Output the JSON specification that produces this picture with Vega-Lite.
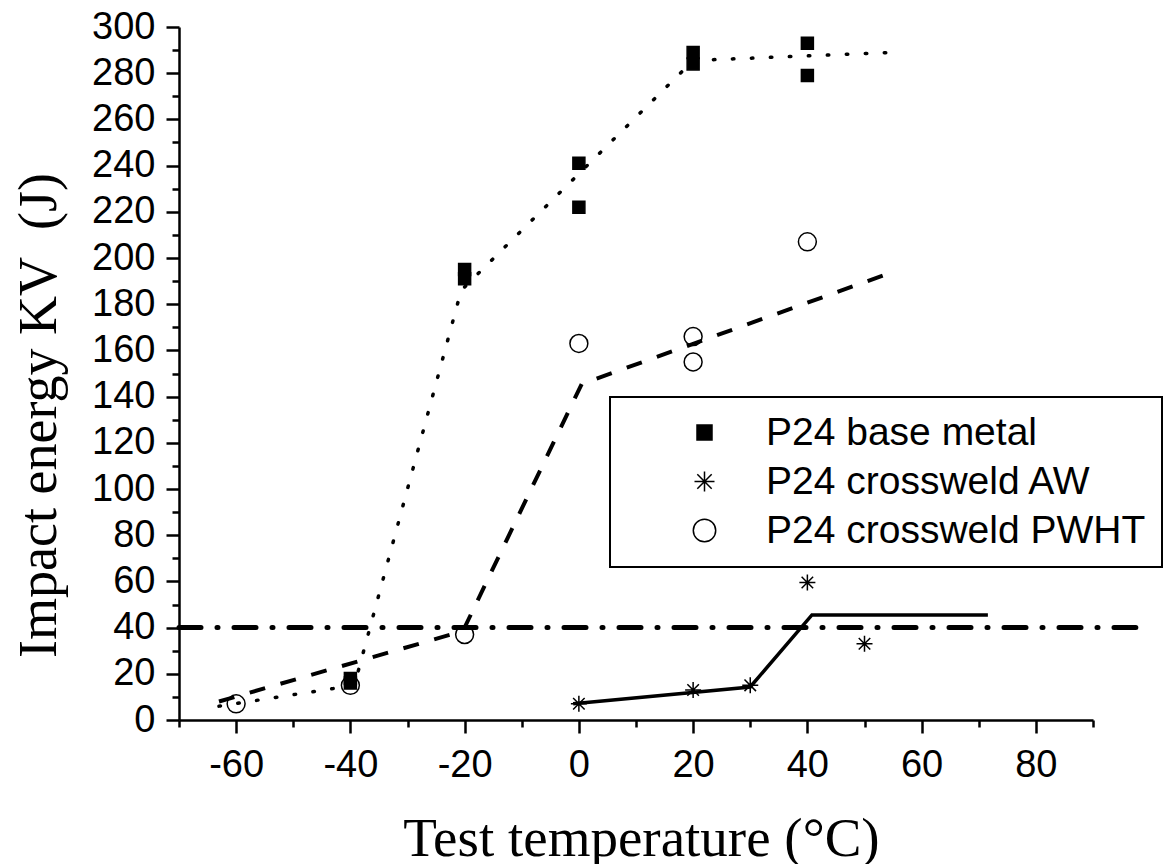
{
  "$schema": "https://vega.github.io/schema/vega-lite/v6.json",
  "width": 914,
  "height": 693,
  "autosize": "none",
  "padding": {"left": 179, "top": 27, "right": 82, "bottom": 144},
  "background": "white",
  "config": {"view": {"stroke": null}, "legend": {"strokeWidth": 2}},
  "datasets": {
    "points": [
      {"series": "P24 base metal", "T": -40, "E": 16},
      {"series": "P24 base metal", "T": -40, "E": 18},
      {"series": "P24 base metal", "T": -20, "E": 191},
      {"series": "P24 base metal", "T": -20, "E": 195},
      {"series": "P24 base metal", "T": 0, "E": 241},
      {"series": "P24 base metal", "T": 0, "E": 222},
      {"series": "P24 base metal", "T": 20, "E": 284},
      {"series": "P24 base metal", "T": 20, "E": 289},
      {"series": "P24 base metal", "T": 40, "E": 293},
      {"series": "P24 base metal", "T": 40, "E": 279},
      {"series": "P24 crossweld AW", "T": 0, "E": 7},
      {"series": "P24 crossweld AW", "T": 20, "E": 13},
      {"series": "P24 crossweld AW", "T": 30, "E": 15},
      {"series": "P24 crossweld AW", "T": 40, "E": 59.5},
      {"series": "P24 crossweld AW", "T": 50, "E": 33},
      {"series": "P24 crossweld PWHT", "T": -60, "E": 7},
      {"series": "P24 crossweld PWHT", "T": -40, "E": 15},
      {"series": "P24 crossweld PWHT", "T": -20, "E": 37},
      {"series": "P24 crossweld PWHT", "T": 0, "E": 163},
      {"series": "P24 crossweld PWHT", "T": 20, "E": 166},
      {"series": "P24 crossweld PWHT", "T": 20, "E": 155},
      {"series": "P24 crossweld PWHT", "T": 40, "E": 207}
    ],
    "limit": [
      {"T": -70, "E": 40},
      {"T": 97.5, "E": 40}
    ],
    "fitBase": [
      {"T": -63, "E": 6},
      {"T": -39.3, "E": 15},
      {"T": -20.6, "E": 186},
      {"T": 20, "E": 285.5},
      {"T": 55, "E": 289}
    ],
    "fitPWHT": [
      {"T": -63, "E": 8},
      {"T": -20.3, "E": 38.5},
      {"T": 0.5, "E": 145.5},
      {"T": 55, "E": 194}
    ],
    "fitAW": [
      {"T": -1, "E": 7},
      {"T": 30, "E": 14.3},
      {"T": 40.8, "E": 45.5},
      {"T": 71.6, "E": 45.5}
    ]
  },
  "encoding": {
    "x": {
      "field": "T",
      "type": "quantitative",
      "scale": {"domain": [-70, 90], "nice": false, "zero": false},
      "axis": {
        "values": [-70, -60, -50, -40, -30, -20, -10, 0, 10, 20, 30, 40, 50, 60, 70, 80, 90],
        "labelExpr": "datum.value % 20 === 0 ? '' + datum.value : ''",
        "tickSize": {"condition": {"test": "datum.value % 20 === 0", "value": 13}, "value": 7},
        "tickWidth": 2.5,
        "tickColor": "black",
        "domainColor": "black",
        "domainWidth": 2.5,
        "grid": false,
        "labelFont": "Liberation Sans, Arial, sans-serif",
        "labelFontSize": 38,
        "labelColor": "black",
        "labelPadding": 13,
        "labelFlush": false,
        "labelOverlap": false,
        "title": "Test temperature (°C)",
        "titleFont": "Liberation Serif",
        "titleFontSize": 55,
        "titleFontWeight": "normal",
        "titleColor": "black",
        "titleX": 462,
        "titleY": 135,
        "titleBaseline": "alphabetic",
        "titleAlign": "center"
      }
    },
    "y": {
      "field": "E",
      "type": "quantitative",
      "scale": {"domain": [0, 300], "nice": false},
      "axis": {
        "values": [0, 10, 20, 30, 40, 50, 60, 70, 80, 90, 100, 110, 120, 130, 140, 150, 160, 170, 180, 190, 200, 210, 220, 230, 240, 250, 260, 270, 280, 290, 300],
        "labelExpr": "datum.value % 20 === 0 ? '' + datum.value : ''",
        "tickSize": {"condition": {"test": "datum.value % 20 === 0", "value": 13}, "value": 7},
        "tickWidth": 2.5,
        "tickColor": "black",
        "domainColor": "black",
        "domainWidth": 2.5,
        "grid": false,
        "labelFont": "Liberation Sans, Arial, sans-serif",
        "labelFontSize": 38,
        "labelColor": "black",
        "labelPadding": 11,
        "labelFlush": false,
        "labelOverlap": false,
        "title": "Impact energy KV\u00a0 (J)",
        "titleFont": "Liberation Serif",
        "titleFontSize": 54,
        "titleFontWeight": "normal",
        "titleColor": "black",
        "titleAngle": -90,
        "titleX": -124,
        "titleY": 388,
        "titleBaseline": "alphabetic",
        "titleAlign": "center"
      }
    }
  },
  "layer": [
    {
      "data": {"name": "limit"},
      "mark": {"type": "line", "color": "black", "strokeWidth": 5, "strokeDash": [22, 16, 1, 16], "strokeCap": "round", "clip": false}
    },
    {
      "data": {"name": "fitBase"},
      "mark": {"type": "line", "color": "black", "strokeWidth": 3.5, "strokeDash": [1.5, 17.5], "strokeCap": "round"}
    },
    {
      "data": {"name": "fitPWHT"},
      "mark": {"type": "line", "color": "black", "strokeWidth": 4, "strokeDash": [16, 16]}
    },
    {
      "data": {"name": "fitAW"},
      "mark": {"type": "line", "color": "black", "strokeWidth": 3.5}
    },
    {
      "data": {"name": "points"},
      "mark": {"type": "point", "size": 256, "strokeWidth": 1.5, "opacity": 1},
      "encoding": {
        "shape": {
          "field": "series",
          "type": "nominal",
          "scale": {
            "domain": ["P24 base metal", "P24 crossweld AW", "P24 crossweld PWHT"],
            "range": [
              "M-0.75,-0.75L0.75,-0.75L0.75,0.75L-0.75,0.75Z",
              "M-1,0L1,0M0,-1L0,1M-0.72,-0.72L0.72,0.72M-0.72,0.72L0.72,-0.72",
              "M1.12,0A1.12,1.12,0,1,1,-1.12,0A1.12,1.12,0,1,1,1.12,0Z"
            ]
          },
          "legend": {
            "title": null,
            "orient": "none",
            "legendX": 431,
            "legendY": 370,
            "padding": 16,
            "strokeColor": "black",
            "fillColor": "white",
            "symbolSize": 400,
            "symbolStrokeWidth": 1.5,
            "symbolOffset": 59,
            "labelOffset": 42,
            "rowPadding": 9,
            "labelFont": "Liberation Sans, Arial, sans-serif",
            "labelFontSize": 39,
            "labelColor": "black",
            "labelLimit": 600,
            "symbolOpacity": 1
          }
        },
        "fill": {
          "field": "series",
          "type": "nominal",
          "scale": {
            "domain": ["P24 base metal", "P24 crossweld AW", "P24 crossweld PWHT"],
            "range": ["black", "transparent", "transparent"]
          }
        },
        "stroke": {
          "field": "series",
          "type": "nominal",
          "scale": {
            "domain": ["P24 base metal", "P24 crossweld AW", "P24 crossweld PWHT"],
            "range": ["black", "black", "black"]
          }
        }
      }
    }
  ]
}
